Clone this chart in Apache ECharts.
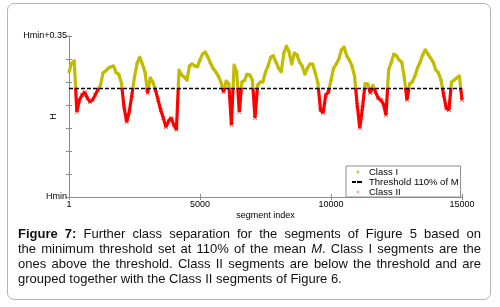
<!DOCTYPE html>
<html>
<head>
<meta charset="utf-8">
<script src="https://cdn.jsdelivr.net/npm/echarts@6/dist/echarts.min.js"></script>
<style>
  html, body { margin: 0; padding: 0; background: #fff; }
  #wrap { position: relative; width: 500px; height: 307px; }
  #frame {
    position: absolute; left: 7px; top: 3px; width: 484px; height: 297px;
    border: 1px solid #b4b4b4; border-radius: 7px; box-sizing: border-box;
  }
  #chart { position: absolute; left: 0; top: 0; width: 500px; height: 307px; }
  #caption {
    position: absolute; left: 18px; top: 226px; width: 463px;
    font-family: 'Liberation Sans', Arial, sans-serif; font-size: 13px;
    line-height: 15px; color: #111;
  }
  #caption span { display: block; text-align: justify; text-align-last: justify; }
  #caption span.last { text-align-last: left; }
</style>
</head>
<body>
<div id="wrap">
  <div id="frame"></div>
  <div id="chart"></div>
  <div id="caption">
    <span><b>Figure 7:</b> Further class separation for the segments of Figure 5 based on</span>
    <span>the minimum threshold set at 110% of the mean <i>M</i>. Class I segments are the</span>
    <span>ones above the threshold. Class II segments are below the threshold and are</span>
    <span class="last">grouped together with the Class II segments of Figure 6.</span>
  </div>
</div>
<script>
// H - Hmin, one reading every 100 segments (0 .. 15000)
const STEP = 100
const hValues = [
  0.272, 0.291, 0.296, 0.185, 0.211, 0.222, 0.228, 0.215, 0.207, 0.211,
  0.222, 0.233, 0.243, 0.270, 0.274, 0.280, 0.283, 0.285, 0.270, 0.267,
  0.248, 0.196, 0.163, 0.185, 0.222, 0.261, 0.291, 0.304, 0.289, 0.272,
  0.226, 0.259, 0.250, 0.233, 0.211, 0.189, 0.172, 0.152, 0.165, 0.172,
  0.157, 0.146, 0.276, 0.265, 0.261, 0.254, 0.285, 0.289, 0.285, 0.283,
  0.298, 0.311, 0.315, 0.304, 0.291, 0.280, 0.272, 0.263, 0.250, 0.228,
  0.252, 0.246, 0.157, 0.287, 0.272, 0.185, 0.250, 0.254, 0.267, 0.265,
  0.254, 0.172, 0.243, 0.250, 0.250, 0.272, 0.285, 0.304, 0.307, 0.293,
  0.280, 0.272, 0.313, 0.328, 0.315, 0.289, 0.313, 0.309, 0.293, 0.285,
  0.267, 0.280, 0.289, 0.289, 0.270, 0.248, 0.189, 0.183, 0.222, 0.228,
  0.254, 0.280, 0.289, 0.300, 0.320, 0.326, 0.307, 0.298, 0.285, 0.263,
  0.200, 0.150, 0.193, 0.246, 0.246, 0.226, 0.243, 0.228, 0.215, 0.211,
  0.202, 0.178, 0.276, 0.293, 0.311, 0.307, 0.298, 0.293, 0.259, 0.211,
  0.246, 0.250, 0.263, 0.280, 0.293, 0.309, 0.320, 0.311, 0.302, 0.293,
  0.276, 0.270, 0.254, 0.222, 0.193, 0.189, 0.250, 0.254, 0.259, 0.263,
  0.211
]
const threshold = 0.236  // 110% of M
const xTickLabels = ['1', '5000', '10000', '15000']
const yTickLabels = ['Hmin', '', '', '', '', '', '', 'Hmin+0.35']

const yellow = '#c2bc00'
const red = '#ff0000'
const boxColor = '#8c8c8c'
const font = "'Liberation Sans', Arial, sans-serif"

const hPoints = hValues.map((v, i) => [Math.max(1, i * STEP), v])
const classI = hPoints.filter(p => p[1] >= threshold)
const classII = hPoints.filter(p => p[1] < threshold)

const crossIcon = 'path://M0,1L1,0L5,4L9,0L10,1L6,5L10,9L9,10L5,6L1,10L0,9L4,5Z'

const chart = echarts.init(document.getElementById('chart'))
chart.setOption({
  animation: false,
  grid: { left: 69, top: 36, width: 393, height: 161 },
  legend: {
    data: [
      { name: 'Class I', icon: 'circle' },
      { name: 'Threshold 110% of M' },
      { name: 'Class II', icon: crossIcon }
    ],
    orient: 'vertical',
    left: 346,
    top: 166,
    itemWidth: 12,
    itemHeight: 3,
    itemGap: 0,
    padding: [1, 2, 0, 5],
    backgroundColor: '#fff',
    borderColor: boxColor,
    borderWidth: 1,
    borderRadius: 0,
    selectedMode: false,
    textStyle: { fontSize: 9.5, lineHeight: 10, color: '#000', fontFamily: font }
  },
  visualMap: {
    type: 'piecewise',
    show: false,
    seriesIndex: 0,
    dimension: 1,
    pieces: [
      { gte: 0, lt: threshold, color: red },
      { gte: threshold, lte: 0.35, color: yellow }
    ],
    outOfRange: { color: red }
  },
  xAxis: [
    {
      type: 'value',
      min: 0,
      max: 15000,
      interval: 5000,
      name: 'segment index',
      nameLocation: 'middle',
      nameGap: 14,
      nameMoveOverlap: false,
      nameTextStyle: { fontSize: 9, color: '#000', fontFamily: font },
      axisLine: { lineStyle: { color: boxColor } },
      axisTick: { inside: true, length: 3, lineStyle: { color: boxColor } },
      axisLabel: {
        margin: 3, fontSize: 9, color: '#000', fontFamily: font,
        formatter: (v, idx) => xTickLabels[idx]
      },
      splitLine: { show: false }
    },
    {
      type: 'value',
      position: 'top',
      min: 0,
      max: 15000,
      interval: 5000,
      axisLine: { lineStyle: { color: boxColor } },
      axisTick: { inside: true, length: 3, lineStyle: { color: boxColor } },
      axisLabel: { show: false },
      splitLine: { show: false }
    }
  ],
  yAxis: [
    {
      type: 'value',
      min: 0,
      max: 0.35,
      interval: 0.05,
      name: 'H',
      nameLocation: 'middle',
      nameRotate: 90,
      nameGap: 11,
      nameMoveOverlap: false,
      nameTextStyle: { fontSize: 9, color: '#000', fontFamily: font },
      axisLine: { show: true, lineStyle: { color: boxColor } },
      axisTick: { show: true, inside: true, length: 3, lineStyle: { color: boxColor } },
      axisLabel: {
        margin: 2, fontSize: 9, color: '#000', fontFamily: font,
        formatter: (v, idx) => yTickLabels[idx]
      },
      splitLine: { show: false }
    },
    {
      type: 'value',
      position: 'right',
      min: 0,
      max: 0.35,
      interval: 0.05,
      axisLine: { show: true, lineStyle: { color: boxColor } },
      axisTick: { show: true, inside: true, length: 3, lineStyle: { color: boxColor } },
      axisLabel: { show: false },
      splitLine: { show: false }
    }
  ],
  series: [
    {
      name: 'H',
      type: 'line',
      data: hPoints,
      showSymbol: false,
      lineStyle: { width: 3.2 },
      z: 2
    },
    {
      name: 'Class I',
      type: 'scatter',
      data: classI,
      symbol: 'circle',
      symbolSize: 3.5,
      itemStyle: { color: yellow },
      z: 3
    },
    {
      name: 'Threshold 110% of M',
      type: 'line',
      data: [[0, threshold], [15000, threshold]],
      showSymbol: false,
      symbol: 'none',
      lineStyle: { color: '#000', width: 1.5, type: [4, 2] },
      itemStyle: { color: '#000' },
      z: 4
    },
    {
      name: 'Class II',
      type: 'scatter',
      data: classII,
      symbol: crossIcon,
      symbolSize: 4.5,
      itemStyle: { color: red },
      z: 3
    }
  ]
})
</script>
</body>
</html>
